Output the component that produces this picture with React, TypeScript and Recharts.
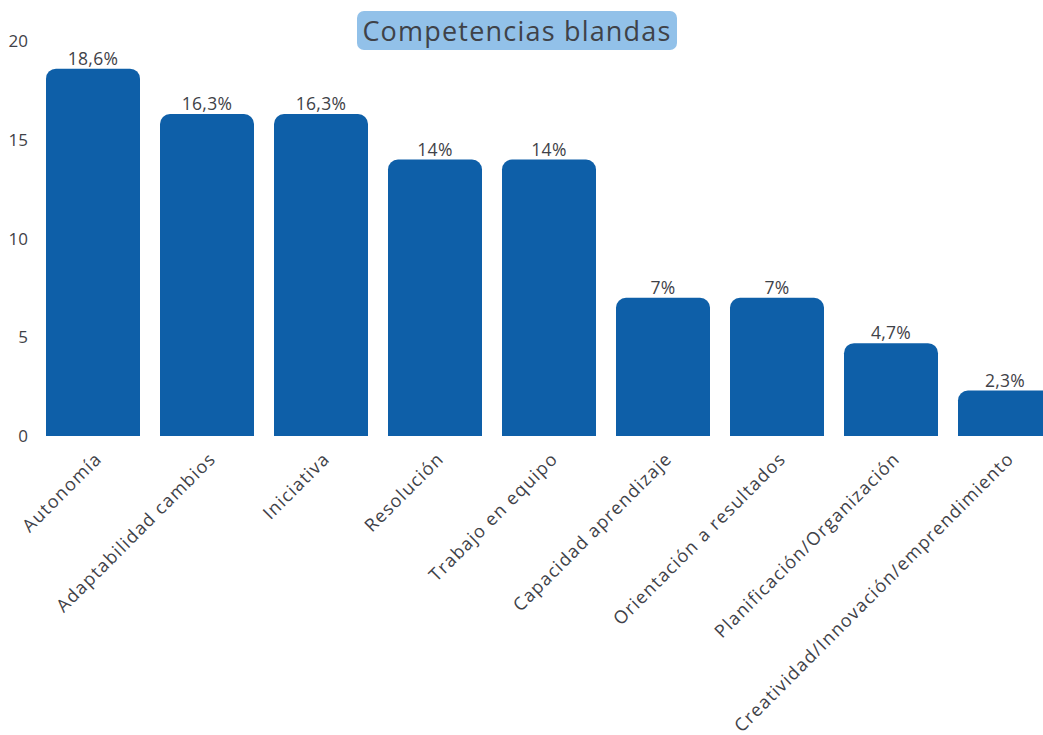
import { BarChart, Bar, XAxis, YAxis, LabelList } from "recharts";

const categorias = [
  "Autonomía",
  "Adaptabilidad cambios",
  "Iniciativa",
  "Resolución",
  "Trabajo en equipo",
  "Capacidad aprendizaje",
  "Orientación a resultados",
  "Planificación/Organización",
  "Creatividad/Innovación/emprendimiento",
];

const porcentajes = [18.6, 16.3, 16.3, 14, 14, 7, 7, 4.7, 2.3];

const yTicks = [0, 5, 10, 15, 20];

const data = categorias.map((nombre, i) => ({ nombre, valor: porcentajes[i] }));

const FONT = "'Open Sans', 'Noto Sans', sans-serif";
const TEXT = "#3f4248";

// etiqueta girada -45 grados del eje X
const RotTick = (props: any) => {
  const { x, y, payload } = props;
  return (
    <g transform={`translate(${x + 10},${y + 16})`}>
      <text
        x={0}
        y={0}
        transform="rotate(-45)"
        textAnchor="end"
        fill={TEXT}
        fontSize={18}
        letterSpacing={1.2}
        fontFamily={FONT}
      >
        {payload.value}
      </text>
    </g>
  );
};

const fmt = (v: any) => `${String(v).replace(".", ",")}%`;

export default function App() {
  return (
    <div style={{ position: "absolute", left: 0, top: 0, width: 1043, height: 735, overflow: "hidden", background: "#fff" }}>
      <BarChart
        width={1062}
        height={735}
        data={data}
        margin={{ top: 41, right: 0, bottom: 0, left: 0 }}
      >
        <YAxis
          width={36}
          domain={[0, 20]}
          ticks={yTicks}
          axisLine={false}
          tickLine={false}
          tick={{ fill: TEXT, fontSize: 17, fontFamily: FONT }}
        />
        <XAxis
          dataKey="nombre"
          height={299}
          interval={0}
          axisLine={false}
          tickLine={false}
          tick={<RotTick />}
        />
        <Bar
          dataKey="valor"
          fill="#0e5fa8"
          barSize={94}
          radius={[10, 10, 0, 0]}
          isAnimationActive={false}
        >
          <LabelList
            dataKey="valor"
            position="top"
            offset={4}
            formatter={fmt}
            fill={TEXT}
            fontSize={17.5}
            letterSpacing={0.3}
            fontFamily={FONT}
          />
        </Bar>
      </BarChart>
      <div
        style={{
          position: "absolute",
          left: 357,
          top: 11,
          width: 320,
          height: 39,
          background: "#92c1e9",
          borderRadius: 7,
          color: TEXT,
          fontFamily: FONT,
          fontSize: 27,
          letterSpacing: 1.2,
          lineHeight: "39px",
          textAlign: "center",
        }}
      >
        Competencias blandas
      </div>
    </div>
  );
}
